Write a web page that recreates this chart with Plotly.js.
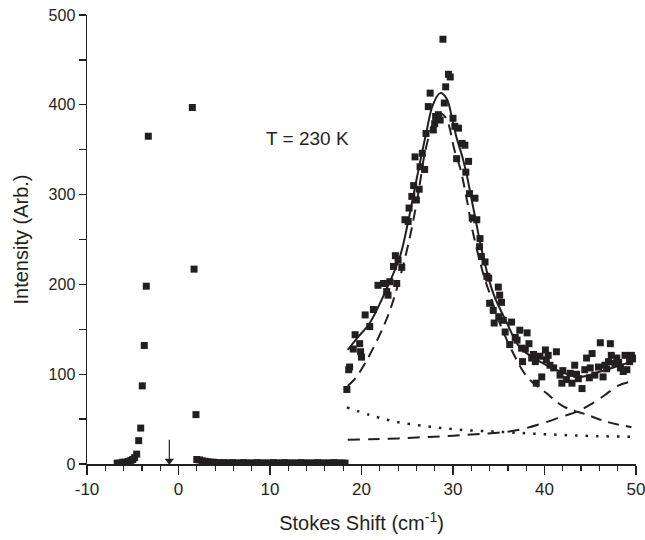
<!DOCTYPE html>
<html>
<head>
<meta charset="utf-8">
<script src="https://cdn.plot.ly/plotly-3.0.1.min.js"></script>
<style>html,body{margin:0;padding:0;background:#fff;}#chart{width:645px;height:540px;}</style>
</head>
<body>
<div id="chart"></div>
<script>
// Tick labels
var xTickVals = [-10, 0, 10, 20, 30, 40, 50];
var xTickText = ['-10', '0', '10', '20', '30', '40', '50'];
// Rayleigh / laser-line region, anti-Stokes side
var leftX = [-6.7, -6.4, -6.1, -5.8, -5.5, -5.2, -5.0, -4.8, -4.57, -4.35, -4.13, -3.96, -3.74, -3.52, -3.30];
var leftY = [1, 1, 2, 2, 3, 4, 5, 7, 11, 26, 40, 87, 132, 198, 365];
// Laser-line region, Stokes side
var rightX = [1.51, 1.70, 1.91];
var rightY = [397, 217, 55];
// Flat low-intensity points
var flatX = [2.0, 2.3, 2.6, 2.9, 3.2, 3.5, 3.8, 4.1, 4.4, 4.7,
             5.0, 5.3, 5.6, 5.9, 6.2, 6.5, 6.8, 7.1, 7.4, 7.7,
             8.0, 8.3, 8.6, 8.9, 9.2, 9.5, 9.8, 10.1, 10.4, 10.7,
             11.0, 11.3, 11.6, 11.9, 12.2, 12.5, 12.8, 13.1, 13.4, 13.7,
             14.0, 14.3, 14.6, 14.9, 15.2, 15.5, 15.8, 16.1, 16.4, 16.7,
             17.0, 17.3, 17.6, 17.9, 18.2];
var flatY = [5, 4.5, 3.5, 3, 2.5, 2, 2, 1.5, 1.5, 1,
             1.5, 1, 1, 1.5, 1, 1, 1, 1.5, 1, 1,
             1, 1, 1.5, 1, 1, 1, 1, 1, 1.5, 1,
             1, 1, 1.5, 1, 1, 1, 1, 1, 1.5, 1,
             1, 1, 1, 1, 1.5, 1, 1, 1, 1, 1,
             1.5, 1, 1, 1, 1];
// Raman band data
var peakX = [18.4, 18.6, 18.7, 19.1, 19.3, 19.8, 19.9, 20.0, 20.4, 20.9,
             21.3, 21.8, 22.4, 22.75, 22.9, 23.1, 23.5, 23.7, 23.85, 24.0,
             24.4, 24.75, 25.1, 25.2, 25.5, 25.7, 25.85, 26.0, 26.3, 26.4,
             26.65, 26.9, 27.05, 27.3, 27.5, 27.85, 28.0, 28.1, 28.2, 28.4,
             28.6, 28.9, 29.05, 29.2, 29.5, 29.7, 30.0, 30.2, 30.4, 30.6,
             31.0, 31.3, 31.4, 31.7, 31.8, 32.1, 32.4, 32.6, 32.9, 32.95,
             33.1, 33.5, 33.7, 33.9, 34.0, 34.4, 34.5, 34.95, 35.0, 35.1,
             35.3, 35.5, 35.7, 36.2, 36.4, 36.8, 37.0, 37.3, 37.5, 37.6,
             37.9, 38.1, 38.3, 38.6, 38.8, 39.0, 39.1, 39.5, 39.7, 40.1,
             40.2, 40.4, 40.6, 41.0, 41.3, 41.7, 41.9, 42.0, 42.4, 42.8,
             43.0, 43.3, 43.5, 43.7, 44.1, 44.4, 44.6, 44.9, 45.0, 45.2,
             45.5, 45.9, 46.1, 46.4, 46.6, 46.8, 47.0, 47.2, 47.3, 47.7,
             47.9, 48.1, 48.3, 48.6, 48.8, 49.0, 49.3, 49.5, 49.7, 50.0];
var peakY = [83, 105, 108, 128, 144, 134, 125, 119, 166, 153,
             172, 199, 201, 192, 188, 203, 220, 232, 201, 227,
             219, 272, 270, 285, 298, 310, 342, 294, 306, 331,
             346, 328, 368, 398, 413, 372, 379, 387, 385, 389,
             383, 473, 402, 420, 434, 431, 385, 376, 340, 374,
             357, 355, 325, 337, 301, 274, 296, 272, 242, 251,
             231, 225, 209, 207, 179, 171, 157, 197, 164, 188,
             180, 160, 147, 133, 158, 141, 138, 149, 129, 114,
             128, 146, 134, 118, 122, 114, 90, 120, 97, 127,
             116, 121, 110, 107, 125, 99, 90, 104, 94, 101,
             90, 110, 100, 95, 84, 105, 118, 96, 107, 123,
             99, 108, 135, 97, 110, 106, 114, 134, 121, 112,
             118, 113, 107, 103, 121, 105, 114, 121, 118, 117];
// Total fit (solid)
var fitX = [18.5, 19.5, 20.9, 22.7, 24.2, 25.1, 26.0, 27.1, 27.8, 28.6,
            29.3, 29.9, 30.4, 31.0, 31.5, 32.2, 33.3, 34.4, 35.9, 37.3,
            39.5, 41.7, 43.9, 46.1, 48.3, 50.0];
var fitY = [127, 140, 157, 194, 231, 270, 316, 370, 400, 413,
            407, 385, 363, 343, 322, 286, 231, 190, 157, 130,
            114, 103, 97, 103, 110, 116];
// Main Lorentzian component (dashed)
var comp1X = [18.5, 19.3, 20.6, 22.4, 23.5, 25.1, 26.2, 27.0, 28.0, 28.7,
              29.3, 30.2, 30.8, 31.5, 32.2, 33.3, 34.0, 35.1, 36.6, 38.1,
              40.2, 42.1, 44.6, 46.8, 49.0, 49.5];
var comp1Y = [87, 95, 116, 153, 183, 244, 301, 350, 383, 390,
              384, 348, 329, 295, 257, 212, 190, 157, 123, 97,
              79, 64, 55, 47, 42, 41];
// Second Lorentzian component (dashed, rising)
var comp2X = [18.5, 21, 24, 27, 30, 33, 36, 38, 40, 42, 43.5, 45, 46.5, 48, 49.5];
var comp2Y = [27, 27.5, 28.5, 30, 31.5, 33.5, 36, 40, 46, 53, 58, 66, 76, 87, 92];
// Background component (dotted)
var bgX = [18.4, 20.9, 23.8, 27.5, 31.1, 34.8, 38.4, 42.0, 45.7, 49.5];
var bgY = [63, 54.6, 47, 41.6, 37.9, 36, 34, 32.3, 31, 30.4];

var ink = '#231f20';
var mk = {symbol: 'square', size: 7, color: ink};
var traces = [
  {x: comp2X, y: comp2Y, mode: 'lines', line: {color: ink, width: 2, dash: '12px,8px', shape: 'spline'}, hoverinfo: 'skip'},
  {x: bgX, y: bgY, mode: 'lines', line: {color: ink, width: 2.5, dash: '2.5px,8px', shape: 'spline'}, hoverinfo: 'skip'},
  {x: comp1X, y: comp1Y, mode: 'lines', line: {color: ink, width: 2, dash: '11px,7px', shape: 'spline'}, hoverinfo: 'skip'},
  {x: fitX, y: fitY, mode: 'lines', line: {color: ink, width: 2, shape: 'spline'}, hoverinfo: 'skip'},
  {x: leftX, y: leftY, mode: 'markers', marker: mk},
  {x: rightX, y: rightY, mode: 'markers', marker: mk},
  {x: flatX, y: flatY, mode: 'markers', marker: mk},
  {x: peakX, y: peakY, mode: 'markers', marker: mk},
  // arrow marking zero shift
  {x: [-1, -1], y: [27, 5], mode: 'lines', line: {color: ink, width: 1.2}, hoverinfo: 'skip'},
  {x: [-1], y: [3.5], mode: 'markers', marker: {symbol: 'triangle-down', size: 8, color: ink}, hoverinfo: 'skip'}
];

var fam = 'Liberation Sans, Arial, sans-serif';
var layout = {
  width: 645, height: 540,
  margin: {l: 87, r: 9, t: 15, b: 76},
  paper_bgcolor: '#fff', plot_bgcolor: '#fff',
  showlegend: false,
  font: {family: fam, color: ink},
  xaxis: {
    range: [-10, 50], showgrid: false, zeroline: false,
    showline: true, linecolor: ink, linewidth: 1.5,
    ticks: 'outside', ticklen: 9, tickwidth: 1.3, tickcolor: ink,
    tickmode: 'array', tickvals: xTickVals, ticktext: xTickText,
    ticklabeloverflow: 'allow',
    tickfont: {family: fam, size: 17, color: ink},
    minor: {dtick: 2, tick0: -10, ticks: 'outside', ticklen: 5, tickwidth: 1.2, tickcolor: ink, showgrid: false},
    title: {text: 'Stokes Shift (cm<sup>-1</sup>)', font: {size: 20, color: ink}, standoff: 18}
  },
  yaxis: {
    range: [0, 500], showgrid: false, zeroline: false,
    showline: true, linecolor: ink, linewidth: 1.5,
    ticks: 'outside', ticklen: 7, tickwidth: 1.3, tickcolor: ink,
    dtick: 100, tickfont: {family: fam, size: 16, color: ink},
    minor: {dtick: 50, ticks: 'outside', ticklen: 7, tickwidth: 1.3, tickcolor: ink, showgrid: false},
    title: {text: 'Intensity (Arb.)', font: {size: 20, color: ink}, standoff: 14}
  },
  annotations: [
    {x: 14.1, y: 362, xref: 'x', yref: 'y', text: 'T = 230 K', showarrow: false,
     font: {size: 19, color: ink}}
  ]
};
Plotly.newPlot('chart', traces, layout, {displayModeBar: false, staticPlot: true});
</script>
</body>
</html>
